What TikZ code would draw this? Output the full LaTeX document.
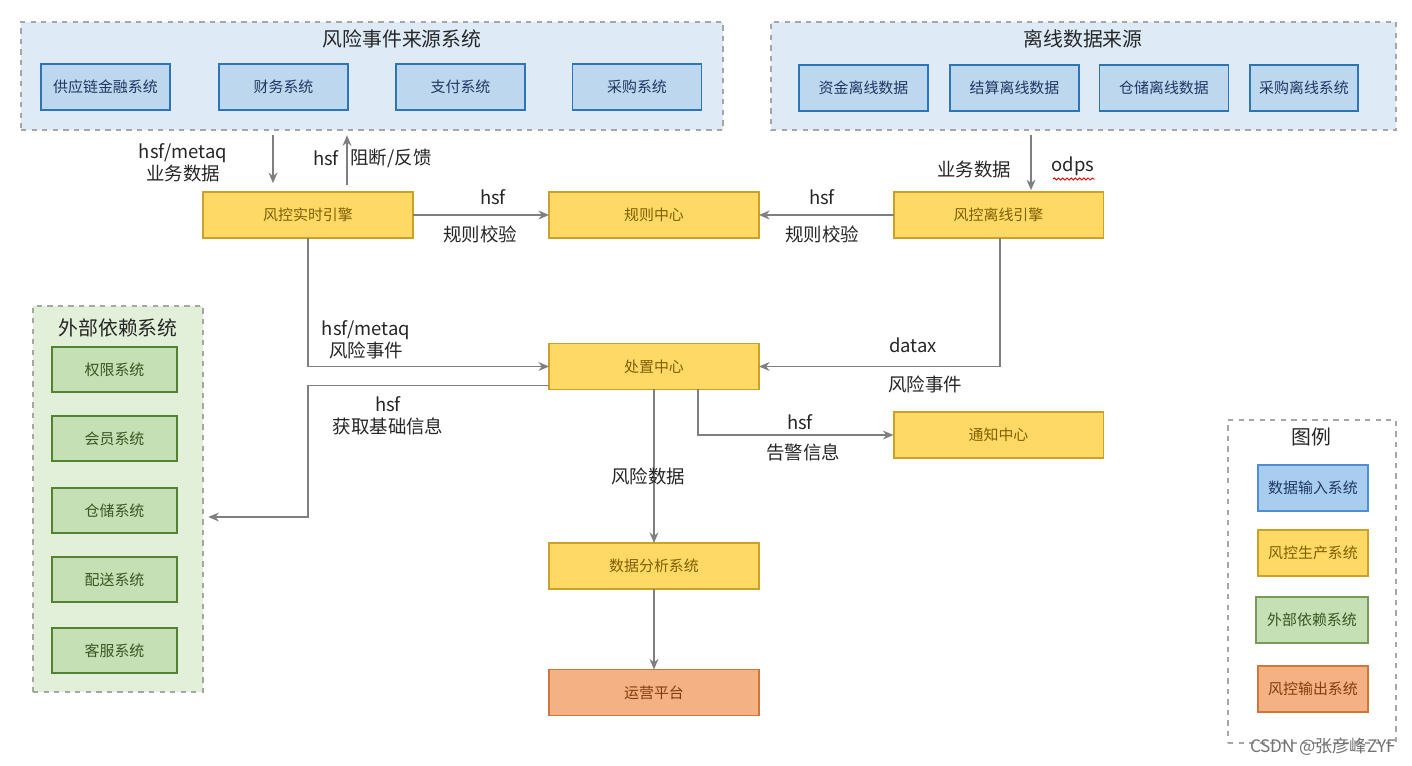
\documentclass[tikz,border=0pt]{standalone}
\usepackage{fontspec}
\setmainfont{Noto Sans CJK SC}
\usetikzlibrary{arrows.meta,decorations.pathmorphing}
\definecolor{grpblue}{HTML}{DEEBF7}
\definecolor{srcfill}{HTML}{BDD7EE}
\definecolor{srcline}{HTML}{2E75B6}
\definecolor{srctext}{HTML}{1F3864}
\definecolor{legblue}{HTML}{A9CDEF}
\definecolor{leglineblue}{HTML}{4E8FD0}
\definecolor{ctrlfill}{HTML}{FFD966}
\definecolor{ctrlline}{HTML}{C9A227}
\definecolor{ctrltext}{HTML}{7F6000}
\definecolor{grpgreen}{HTML}{E2F0D9}
\definecolor{depfill}{HTML}{C5E0B4}
\definecolor{depline}{HTML}{548235}
\definecolor{deptext}{HTML}{385723}
\definecolor{outfill}{HTML}{F4B183}
\definecolor{outborder}{HTML}{D0763A}
\definecolor{outtext}{HTML}{843C0C}
\definecolor{wire}{HTML}{7F7F7F}
\definecolor{dashgray}{HTML}{A6A6A6}
\tikzset{
  boxbase/.style={draw, line width=1.1pt, inner sep=0pt, outer sep=0pt,
    font=\fontsize{8.5}{10}\selectfont},
  srcbox/.style={boxbase, fill=srcfill, draw=srcline, text=srctext,
    minimum width=2.58cm, minimum height=0.92cm},
  ctrlbox/.style={boxbase, fill=ctrlfill, draw=ctrlline, text=ctrltext,
    minimum width=4.2cm, minimum height=0.92cm},
  depbox/.style={boxbase, fill=depfill, draw=depline, text=deptext,
    minimum width=2.5cm, minimum height=0.9cm},
  outbox/.style={boxbase, fill=outfill, draw=outborder, text=outtext,
    minimum width=4.2cm, minimum height=0.92cm},
  grpbox/.style={draw=dashgray, dashed, line width=0.7pt, inner sep=0pt, outer sep=0pt},
  grptitle/.style={font=\fontsize{11.3}{13}\selectfont, text=black!85},
  lbl/.style={font=\fontsize{10.5}{12.8}\selectfont, text=black!85, align=center, inner sep=1pt},
  arr/.style={draw=wire, line width=1.1pt, -{Stealth[length=6pt,width=5pt]}},
}
\begin{document}
\begin{tikzpicture}[x=0.02cm, y=-0.02cm]
\useasboundingbox[fill=white] (0,0) rectangle (1412,766);

% source groups
\node[grpbox, fill=grpblue, minimum width=14.04cm, minimum height=2.16cm] (srcgrp) at (372,76) {};
\node[grptitle] (srctitle) at (402,39) {风险事件来源系统};
\node[srcbox] (scf) at (105.5,87) {供应链金融系统};
\node[srcbox] (fin) at (283.5,87) {财务系统};
\node[srcbox] (pay) at (460.5,87) {支付系统};
\node[srcbox] (buy) at (637,87) {采购系统};

\node[grpbox, fill=grpblue, minimum width=12.5cm, minimum height=2.16cm] (offgrp) at (1083.5,76) {};
\node[grptitle] (offtitle) at (1083,39) {离线数据来源};
\node[srcbox] (fund) at (863.5,88) {资金离线数据};
\node[srcbox] (settle) at (1014.5,88) {结算离线数据};
\node[srcbox] (store) at (1164,88) {仓储离线数据};
\node[srcbox, minimum width=2.16cm] (offbuy) at (1304,88) {采购离线系统};

% engines
\node[ctrlbox] (rt) at (308,215) {风控实时引擎};
\node[ctrlbox] (rule) at (654,215) {规则中心};
\node[ctrlbox] (off) at (998.5,215) {风控离线引擎};
\node[ctrlbox] (deal) at (654,366.5) {处置中心};
\node[ctrlbox] (notice) at (998.5,435) {通知中心};
\node[ctrlbox] (ana) at (654,566) {数据分析系统};
\node[outbox] (ops) at (654,692.5) {运营平台};

% external systems
\node[grpbox, fill=grpgreen, minimum width=3.4cm, minimum height=7.72cm] (extgrp) at (118,499) {};
\node[grptitle] (exttitle) at (118,328) {外部依赖系统};
\node[depbox] (auth) at (114.5,369.5) {权限系统};
\node[depbox] (member) at (114.5,438.5) {会员系统};
\node[depbox] (wh) at (114.5,510.5) {仓储系统};
\node[depbox] (ship) at (114.5,579.5) {配送系统};
\node[depbox] (cs) at (114.5,650.5) {客服系统};

% legend
\node[grpbox, fill=white, minimum width=3.36cm, minimum height=6.46cm] (legend) at (1312,581.5) {};
\node[grptitle] (legtitle) at (1311,437) {图例};
\node[srcbox, minimum width=2.2cm, fill=legblue, draw=leglineblue] (lg1) at (1313,488) {数据输入系统};
\node[ctrlbox, minimum width=2.2cm] (lg2) at (1313,553) {风控生产系统};
\node[depbox, minimum width=2.24cm, minimum height=0.92cm, draw=depline!80] (lg3) at (1312,620) {外部依赖系统};
\node[outbox, minimum width=2.2cm] (lg4) at (1313,689) {风控输出系统};

% connectors
\coordinate (xin) at (273,0);
\coordinate (xback) at (347,0);
\coordinate (xoff) at (1031,0);
\coordinate (xrt) at (308,0);
\coordinate (xoe) at (1000,0);
\coordinate (xalarm) at (698,0);
\coordinate (xbend) at (308,517);

\draw[arr, shorten <=3pt, shorten >=5pt] (srcgrp.south -| xin) -- (rt.north -| xin);
\draw[arr, shorten <=4pt, shorten >=3pt] (rt.north -| xback) -- (srcgrp.south -| xback);
\draw[arr, shorten <=3pt, shorten >=1pt] (offgrp.south -| xoff) -- (off.north -| xoff);
\draw[arr] (rt.east) -- (rule.west);
\draw[arr] (off.west) -- (rule.east);
\draw[arr] (rt.south -| xrt) |- (deal.west);
\draw[arr] (off.south -| xoe) |- (deal.east);
\draw[arr, shorten >=3pt] ([yshift=0.08cm]deal.south west) -| (xbend) -- (extgrp.east |- xbend);
\draw[arr] (deal.south) -- (ana.north);
\draw[arr] (deal.south -| xalarm) |- (notice.west);
\draw[arr] (ana.south) -- (ops.north);

% labels
\node[lbl] (l1) at (183,163) {hsf/metaq\\业务数据};
\node[lbl] (l2) at (326,158) {hsf};
\node[lbl] (l3) at (391,158) {阻断/反馈};
\node[lbl] (l4) at (493,197) {hsf};
\node[lbl] (l5) at (480,234) {规则校验};
\node[lbl] (l6) at (822,197) {hsf};
\node[lbl] (l7) at (822,234) {规则校验};
\node[lbl] (l8) at (974,170) {业务数据};
\node[lbl] (odps) at (1073,166) {odps};
\draw[red!85!black, line width=0.5pt, decorate, decoration={snake, amplitude=0.6pt, segment length=2.4pt}]
  (1053,179) -- (1095,179);
\node[lbl] (l9) at (366,340) {hsf/metaq\\风险事件};
\node[lbl] (l10) at (913,345) {datax};
\node[lbl] (l11) at (925,384) {风险事件};
\node[lbl] (l12) at (388,416) {hsf\\获取基础信息};
\node[lbl] (l13) at (800,422) {hsf};
\node[lbl] (l14) at (803,452) {告警信息};
\node[lbl] (l15) at (648,476) {风险数据};
\node[font=\fontsize{9.8}{11}\selectfont, text=black!55] (mark) at (1323,747) {CSDN @张彦峰ZYF};
\end{tikzpicture}
\end{document}
